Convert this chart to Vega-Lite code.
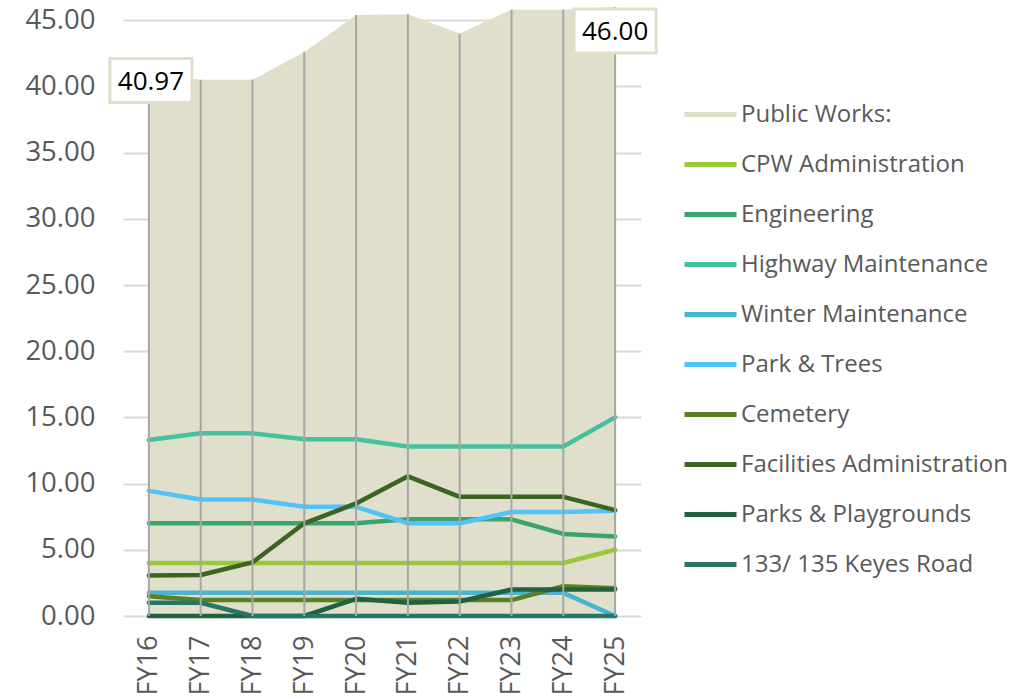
{
  "$schema": "https://vega.github.io/schema/vega-lite/v6.json",
  "width": 518,
  "height": 609,
  "autosize": {"type": "none"},
  "padding": {"left": 123, "top": 7, "right": 394, "bottom": 83},
  "background": "white",
  "config": {"view": {"stroke": null}, "font": "Open Sans"},
  "data": {"values": [
    {"fy":"FY16","series":"Public Works:","value":40.97},{"fy":"FY17","series":"Public Works:","value":40.5},{"fy":"FY18","series":"Public Works:","value":40.5},{"fy":"FY19","series":"Public Works:","value":42.6},{"fy":"FY20","series":"Public Works:","value":45.4},{"fy":"FY21","series":"Public Works:","value":45.45},{"fy":"FY22","series":"Public Works:","value":44.0},{"fy":"FY23","series":"Public Works:","value":45.8},{"fy":"FY24","series":"Public Works:","value":45.8},{"fy":"FY25","series":"Public Works:","value":46.0},
    {"fy":"FY16","series":"CPW Administration","value":4},{"fy":"FY17","series":"CPW Administration","value":4},{"fy":"FY18","series":"CPW Administration","value":4},{"fy":"FY19","series":"CPW Administration","value":4},{"fy":"FY20","series":"CPW Administration","value":4},{"fy":"FY21","series":"CPW Administration","value":4},{"fy":"FY22","series":"CPW Administration","value":4},{"fy":"FY23","series":"CPW Administration","value":4},{"fy":"FY24","series":"CPW Administration","value":4},{"fy":"FY25","series":"CPW Administration","value":5},
    {"fy":"FY16","series":"Engineering","value":7},{"fy":"FY17","series":"Engineering","value":7},{"fy":"FY18","series":"Engineering","value":7},{"fy":"FY19","series":"Engineering","value":7},{"fy":"FY20","series":"Engineering","value":7},{"fy":"FY21","series":"Engineering","value":7.3},{"fy":"FY22","series":"Engineering","value":7.3},{"fy":"FY23","series":"Engineering","value":7.3},{"fy":"FY24","series":"Engineering","value":6.2},{"fy":"FY25","series":"Engineering","value":6.0},
    {"fy":"FY16","series":"Highway Maintenance","value":13.3},{"fy":"FY17","series":"Highway Maintenance","value":13.8},{"fy":"FY18","series":"Highway Maintenance","value":13.8},{"fy":"FY19","series":"Highway Maintenance","value":13.35},{"fy":"FY20","series":"Highway Maintenance","value":13.35},{"fy":"FY21","series":"Highway Maintenance","value":12.8},{"fy":"FY22","series":"Highway Maintenance","value":12.8},{"fy":"FY23","series":"Highway Maintenance","value":12.8},{"fy":"FY24","series":"Highway Maintenance","value":12.8},{"fy":"FY25","series":"Highway Maintenance","value":15.0},
    {"fy":"FY16","series":"Winter Maintenance","value":1.75},{"fy":"FY17","series":"Winter Maintenance","value":1.75},{"fy":"FY18","series":"Winter Maintenance","value":1.75},{"fy":"FY19","series":"Winter Maintenance","value":1.75},{"fy":"FY20","series":"Winter Maintenance","value":1.75},{"fy":"FY21","series":"Winter Maintenance","value":1.75},{"fy":"FY22","series":"Winter Maintenance","value":1.75},{"fy":"FY23","series":"Winter Maintenance","value":1.75},{"fy":"FY24","series":"Winter Maintenance","value":1.75},{"fy":"FY25","series":"Winter Maintenance","value":0},
    {"fy":"FY16","series":"Park & Trees","value":9.45},{"fy":"FY17","series":"Park & Trees","value":8.8},{"fy":"FY18","series":"Park & Trees","value":8.8},{"fy":"FY19","series":"Park & Trees","value":8.25},{"fy":"FY20","series":"Park & Trees","value":8.25},{"fy":"FY21","series":"Park & Trees","value":7.0},{"fy":"FY22","series":"Park & Trees","value":7.0},{"fy":"FY23","series":"Park & Trees","value":7.85},{"fy":"FY24","series":"Park & Trees","value":7.85},{"fy":"FY25","series":"Park & Trees","value":7.95},
    {"fy":"FY16","series":"Cemetery","value":1.5},{"fy":"FY17","series":"Cemetery","value":1.2},{"fy":"FY18","series":"Cemetery","value":1.2},{"fy":"FY19","series":"Cemetery","value":1.2},{"fy":"FY20","series":"Cemetery","value":1.2},{"fy":"FY21","series":"Cemetery","value":1.2},{"fy":"FY22","series":"Cemetery","value":1.2},{"fy":"FY23","series":"Cemetery","value":1.2},{"fy":"FY24","series":"Cemetery","value":2.25},{"fy":"FY25","series":"Cemetery","value":2.1},
    {"fy":"FY16","series":"Facilities Administration","value":3.05},{"fy":"FY17","series":"Facilities Administration","value":3.1},{"fy":"FY18","series":"Facilities Administration","value":4.05},{"fy":"FY19","series":"Facilities Administration","value":7.0},{"fy":"FY20","series":"Facilities Administration","value":8.5},{"fy":"FY21","series":"Facilities Administration","value":10.55},{"fy":"FY22","series":"Facilities Administration","value":9.0},{"fy":"FY23","series":"Facilities Administration","value":9.0},{"fy":"FY24","series":"Facilities Administration","value":9.0},{"fy":"FY25","series":"Facilities Administration","value":8.0},
    {"fy":"FY16","series":"Parks & Playgrounds","value":0},{"fy":"FY17","series":"Parks & Playgrounds","value":0},{"fy":"FY18","series":"Parks & Playgrounds","value":0},{"fy":"FY19","series":"Parks & Playgrounds","value":0},{"fy":"FY20","series":"Parks & Playgrounds","value":1.3},{"fy":"FY21","series":"Parks & Playgrounds","value":1.0},{"fy":"FY22","series":"Parks & Playgrounds","value":1.1},{"fy":"FY23","series":"Parks & Playgrounds","value":2.0},{"fy":"FY24","series":"Parks & Playgrounds","value":2.0},{"fy":"FY25","series":"Parks & Playgrounds","value":2.0},
    {"fy":"FY16","series":"133/ 135 Keyes Road","value":1.0},{"fy":"FY17","series":"133/ 135 Keyes Road","value":1.0},{"fy":"FY18","series":"133/ 135 Keyes Road","value":0},{"fy":"FY19","series":"133/ 135 Keyes Road","value":0},{"fy":"FY20","series":"133/ 135 Keyes Road","value":0},{"fy":"FY21","series":"133/ 135 Keyes Road","value":0},{"fy":"FY22","series":"133/ 135 Keyes Road","value":0},{"fy":"FY23","series":"133/ 135 Keyes Road","value":0},{"fy":"FY24","series":"133/ 135 Keyes Road","value":0},{"fy":"FY25","series":"133/ 135 Keyes Road","value":0}
  ]},
  "layer": [
    {
      "transform": [{"filter": "datum.series === 'Public Works:'"}],
      "mark": {"type": "area", "opacity": 1},
      "encoding": {
        "x": {"field": "fy", "type": "ordinal", "sort": null, "scale": {"type": "point", "padding": 0.5},
          "axis": {"title": null, "labelAngle": 270, "labelFont": "Open Sans", "labelFontSize": 27, "labelColor": "#595959", "domain": false, "ticks": false, "grid": false, "labelPadding": 19}},
        "y": {"field": "value", "type": "quantitative", "stack": null, "scale": {"domain": [0, 46], "nice": false, "zero": true},
          "axis": {"title": null, "values": [0,5,10,15,20,25,30,35,40,45], "format": ".2f", "labelFont": "Open Sans", "labelFontSize": 27.5, "labelColor": "#595959", "domain": false, "ticks": false, "gridColor": "#d9d9d9", "gridWidth": 2, "labelPadding": 28}},
        "color": {"field": "series", "type": "nominal",
          "scale": {"domain": ["Public Works:","CPW Administration","Engineering","Highway Maintenance","Winter Maintenance","Park & Trees","Cemetery","Facilities Administration","Parks & Playgrounds","133/ 135 Keyes Road"],
                    "range": ["#e0dfcc","#9bc83b","#38a56c","#45c19f","#4ab3d0","#52c3f7","#5b7f24","#3a6420","#1f6140","#267565"]},
          "legend": {"orient": "none", "legendX": 559, "legendY": 79, "title": null,
            "labelFont": "Open Sans", "labelFontSize": 24, "labelColor": "#595959", "labelOffset": 2, "labelLimit": 0,
            "symbolType": "stroke", "symbolSize": 2704, "symbolStrokeWidth": 5, "rowPadding": 9,
            "encode": {"symbols": {"update": {
              "shape": {"value": "stroke"},
              "fill": {"value": "transparent"},
              "stroke": {"signal": "scale('color', datum.value)"},
              "strokeWidth": {"signal": "datum.value === 'Public Works:' ? 16 : 5"},
              "strokeCap": {"signal": "datum.value === 'Public Works:' ? 'butt' : 'round'"},
              "opacity": {"value": 1}
            }}}}
        }
      }
    },
    {
      "transform": [{"filter": "datum.series !== 'Public Works:'"}],
      "mark": {"type": "line", "strokeWidth": 4.5, "strokeCap": "round", "strokeJoin": "round"},
      "encoding": {
        "x": {"field": "fy", "type": "ordinal", "sort": null},
        "y": {"field": "value", "type": "quantitative"},
        "color": {"field": "series", "type": "nominal"}
      }
    },
    {
      "transform": [{"filter": "datum.series === 'Public Works:'"}],
      "mark": {"type": "rule", "color": "#a6a6a6", "strokeWidth": 2},
      "encoding": {
        "x": {"field": "fy", "type": "ordinal", "sort": null},
        "y": {"field": "value", "type": "quantitative"},
        "y2": {"datum": 0}
      }
    },
    {
      "transform": [{"filter": "datum.series === 'Public Works:' && datum.fy === 'FY16'"}],
      "mark": {"type": "point", "shape": "M-1,-0.537H1V0.537H-1Z", "size": 6724, "filled": true, "fill": "white", "stroke": "#e0dfcc", "strokeWidth": 3, "opacity": 1, "xOffset": 2, "yOffset": 7},
      "encoding": {
        "x": {"field": "fy", "type": "ordinal", "sort": null},
        "y": {"field": "value", "type": "quantitative"}
      }
    },
    {
      "transform": [{"filter": "datum.series === 'Public Works:' && datum.fy === 'FY16'"}],
      "mark": {"type": "text", "font": "Open Sans", "fontSize": 26, "color": "#000000", "xOffset": 2, "yOffset": 8, "baseline": "middle", "align": "center"},
      "encoding": {
        "x": {"field": "fy", "type": "ordinal", "sort": null},
        "y": {"field": "value", "type": "quantitative"},
        "text": {"field": "value", "type": "quantitative", "format": ".2f"}
      }
    },
    {
      "transform": [{"filter": "datum.series === 'Public Works:' && datum.fy === 'FY25'"}],
      "mark": {"type": "point", "shape": "M-1,-0.537H1V0.537H-1Z", "size": 6724, "filled": true, "fill": "white", "stroke": "#e0dfcc", "strokeWidth": 3, "opacity": 1, "xOffset": 0, "yOffset": 24},
      "encoding": {
        "x": {"field": "fy", "type": "ordinal", "sort": null},
        "y": {"field": "value", "type": "quantitative"}
      }
    },
    {
      "transform": [{"filter": "datum.series === 'Public Works:' && datum.fy === 'FY25'"}],
      "mark": {"type": "text", "font": "Open Sans", "fontSize": 26, "color": "#000000", "xOffset": 0, "yOffset": 25, "baseline": "middle", "align": "center"},
      "encoding": {
        "x": {"field": "fy", "type": "ordinal", "sort": null},
        "y": {"field": "value", "type": "quantitative"},
        "text": {"field": "value", "type": "quantitative", "format": ".2f"}
      }
    }
  ]
}
